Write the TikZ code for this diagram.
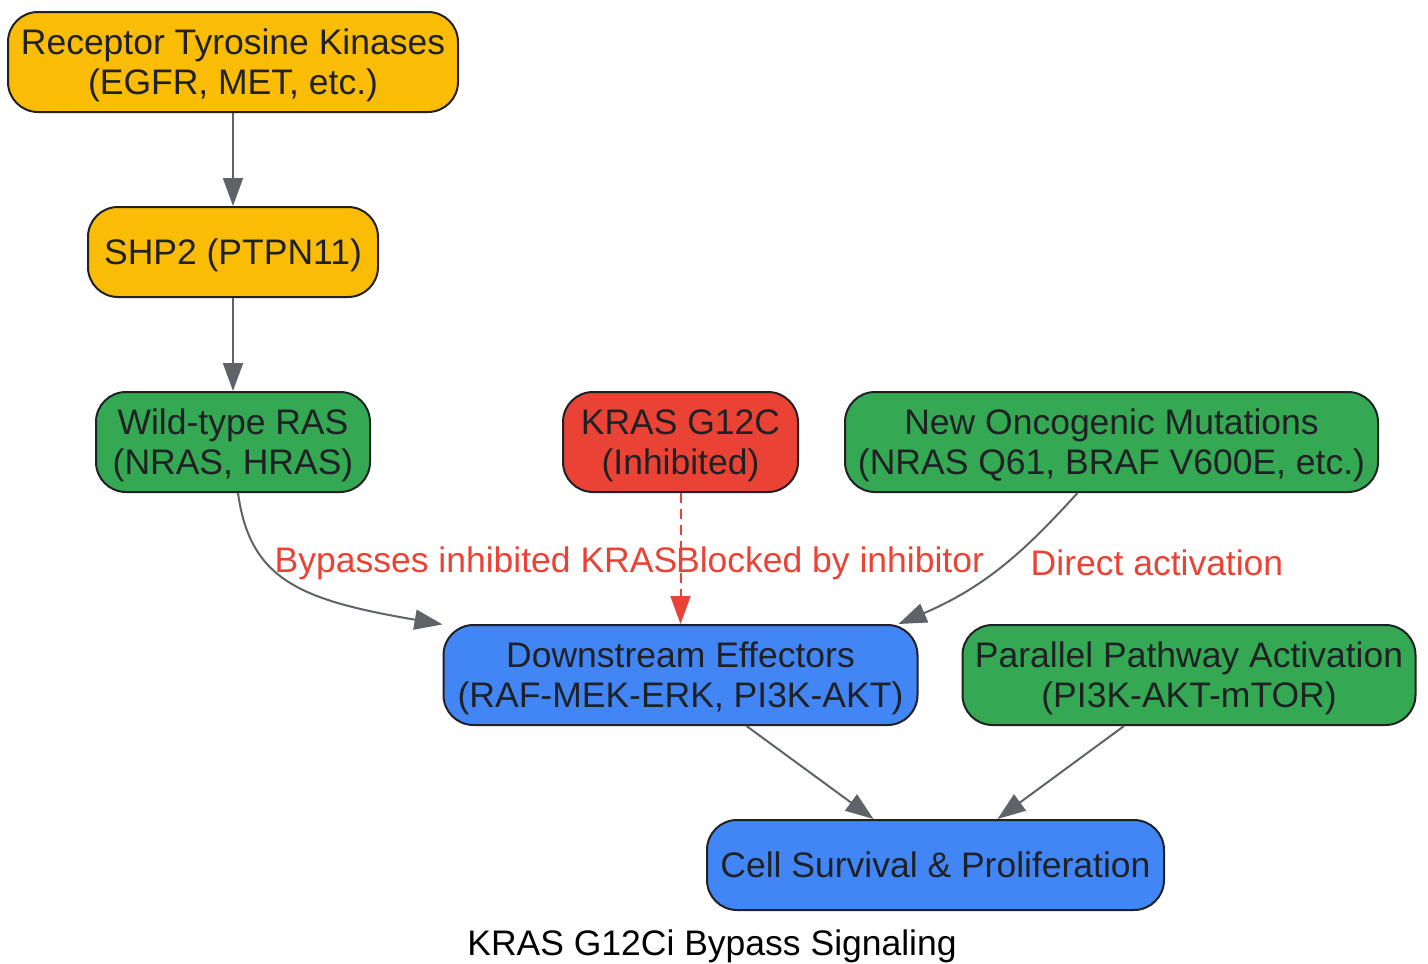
\documentclass[tikz,border=0pt]{standalone}
\usepackage{fontspec}
\setmainfont{Liberation Sans}
\usepackage{tikz}
\usetikzlibrary{arrows.meta}
\usetikzlibrary{positioning}

\definecolor{rtkyellow}{HTML}{FBBC05}
\definecolor{rasgreen}{HTML}{34A853}
\definecolor{krasred}{HTML}{EA4335}
\definecolor{effblue}{HTML}{4285F4}
\definecolor{edgegray}{HTML}{5F6368}
\definecolor{inkdark}{HTML}{202124}

\tikzset{
  pathway/.style={draw=inkdark, line width=2pt, rounded corners=30pt,
    align=center, text=inkdark, inner sep=4pt, text depth=0pt,
    font=\fontsize{35.5}{40}\selectfont},
  flow/.style={draw=edgegray, line width=2pt,
    -{Triangle[length=28pt, width=20pt]}},
  blocked/.style={draw=krasred, line width=2pt, dash pattern=on 10pt off 6pt,
    -{Triangle[length=28pt, width=20pt, fill=krasred]}},
  elabel/.style={text=krasred, font=\fontsize{35.5}{40}\selectfont},
}

\begin{document}
\begin{tikzpicture}[x=1pt, y=-1pt]
    \useasboundingbox (0,0) rectangle (1428,964);

    \node [pathway, fill=rtkyellow, minimum width=450pt, minimum height=100pt]
      (rtk) at (233,62) {Receptor Tyrosine Kinases\\(EGFR, MET, etc.)};
    \node [pathway, fill=rtkyellow, minimum width=290pt, minimum height=90pt,
      below=93pt of rtk] (shp2) {SHP2 (PTPN11)};
    \node [pathway, fill=rasgreen, minimum width=274pt, minimum height=100pt,
      below=93pt of shp2] (wtras) {Wild-type RAS\\(NRAS, HRAS)};
    \node [pathway, fill=krasred, minimum width=235pt, minimum height=100pt,
      right=191pt of wtras] (kras) {KRAS G12C\\(Inhibited)};
    \node [pathway, fill=rasgreen, minimum width=533pt, minimum height=100pt,
      right=45pt of kras] (newonc) {New Oncogenic Mutations\\(NRAS Q61, BRAF V600E, etc.)};
    \node [pathway, fill=effblue, minimum width=474pt, minimum height=100pt,
      below=131pt of kras] (down) {Downstream Effectors\\(RAF-MEK-ERK, PI3K-AKT)};
    \node [pathway, fill=rasgreen, minimum width=453pt, minimum height=100pt,
      right=43pt of down] (parallel) {Parallel Pathway Activation\\(PI3K-AKT-mTOR)};
    \node [pathway, fill=effblue, minimum width=457pt, minimum height=90pt]
      (cell) at (935.5,865) {Cell Survival \& Proliferation};

    \node [font=\fontsize{35.5}{40}\selectfont] (title) at (712,946) {KRAS G12Ci Bypass Signaling};

    % edge labels
    \node [elabel] (lbypass) at (476,563) {Bypasses inhibited KRAS};
    \node [elabel] (lblock) at (830,563) {Blocked by inhibitor};
    \node [elabel] (ldirect) at (1157,563) {Direct activation};

    \draw [flow] (rtk) -- (shp2);
    \draw [flow] (shp2) -- (wtras);
    \draw [flow] ([xshift=5pt]wtras.south) .. controls (250,580) and (300,600) .. (down.168);
    \draw [blocked] (kras.south) -- (kras.south |- down.north);
    \draw [flow] ([xshift=-34pt]newonc.south) .. controls (1030,545) and (990,585)
      .. ([xshift=-20pt]down.north east);
    \draw [flow] ([xshift=66pt]down.south) -- ([xshift=-62pt]cell.north);
    \draw [flow] ([xshift=-65pt]parallel.south) -- ([xshift=62pt]cell.north);
\end{tikzpicture}
\end{document}
